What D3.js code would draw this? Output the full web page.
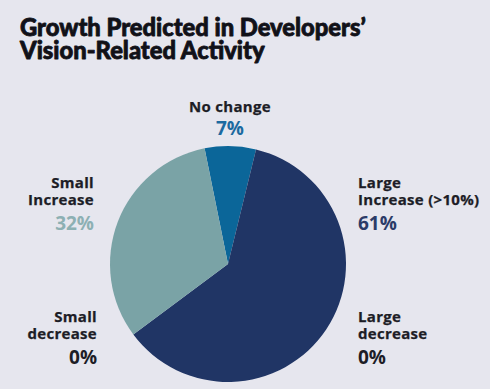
<!DOCTYPE html>
<html>
<head>
<meta charset="utf-8">
<script src="https://cdn.jsdelivr.net/npm/d3@7"></script>
<style>
  html, body { margin: 0; padding: 0; background: #e6e6ee; }
  svg { display: block; font-family: "Open Sans", "DejaVu Sans", sans-serif; }
</style>
</head>
<body>
<svg id="chart" width="490" height="389"></svg>
<script>
// data (pie order clockwise from "No change")
var categories = ['No change', 'Large Increase (>10%)', 'Large decrease', 'Small decrease', 'Small Increase'];
var shares = [7, 61, 0, 0, 32];
var sliceColors = ['#0b6699', '#203565', '#203565', '#7aa3a6', '#7aa3a6'];

// label blocks: name lines, percent color
var labelLines = [['No change'], ['Large', 'Increase (>10%)'], ['Large', 'decrease'], ['Small', 'decrease'], ['Small', 'Increase']];
var pctColors = ['#1b6aa0', '#2b3b68', '#1d1d26', '#1d1d26', '#8db0b3'];
var titleLines = ['Growth Predicted in Developers’', 'Vision-Related Activity'];

var svg = d3.select('#chart');
var W = 490, H = 389;
svg.append('rect').attr('width', W).attr('height', H).attr('fill', '#e6e6ee');

// title, sized so the first line spans like the original; stroke thickens it
var tl = svg.selectAll('text.title').data(titleLines).enter().append('text').attr('class', 'title')
  .attr('x', 20).attr('y', function (d, i) { return 36 + i * 23; })
  .attr('font-family', 'Lato, "Open Sans", sans-serif')
  .attr('font-weight', 900).attr('fill', '#111118').attr('font-size', 22)
  .attr('stroke', '#111118').attr('stroke-width', 0.8).attr('stroke-linejoin', 'round')
  .text(function (d) { return d; });
var w0 = tl.node().getComputedTextLength();
if (w0 > 0) tl.attr('font-size', 22 * 346 / w0);

// pie
var cx = 228, cy = 264, R = 118;
var pie = d3.pie().sort(null).value(function (d) { return d; })
  .startAngle(-0.2).endAngle(-0.2 + 2 * Math.PI);
var arc = d3.arc().innerRadius(0).outerRadius(R);
var g = svg.append('g').attr('transform', 'translate(' + cx + ',' + cy + ')');
g.selectAll('path').data(pie(shares)).enter().append('path')
  .attr('d', arc)
  .attr('fill', function (d, i) { return sliceColors[i]; });

// label anchors
var LAB = [
  { x: 230, y: 112, anchor: 'middle' },
  { x: 358, y: 188, anchor: 'start' },
  { x: 358, y: 322, anchor: 'start' },
  { x: 97, y: 322, anchor: 'end' },
  { x: 94, y: 188, anchor: 'end' }
];
categories.forEach(function (c, i) {
  var p = LAB[i];
  labelLines[i].forEach(function (l, k) {
    svg.append('text').attr('x', p.x).attr('y', p.y + k * 17)
      .attr('text-anchor', p.anchor).attr('font-size', 15).attr('letter-spacing', 0.3)
      .attr('font-weight', 700).attr('fill', '#1d1d26')
      .attr('stroke', '#1d1d26').attr('stroke-width', 0.25).text(l);
  });
  var lastY = p.y + (labelLines[i].length - 1) * 17;
  svg.append('text').attr('x', p.x).attr('y', lastY + (labelLines[i].length > 1 ? 25 : 23))
    .attr('text-anchor', p.anchor).attr('font-size', 19).attr('font-weight', 700)
    .attr('fill', pctColors[i]).text(shares[i] + '%');
});
</script>
</body>
</html>
